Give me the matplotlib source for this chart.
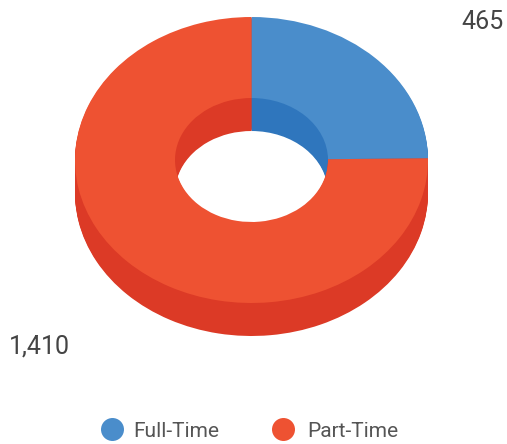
import matplotlib
matplotlib.use('Agg')
import matplotlib.pyplot as plt

# ---- data ----
categories = ['Full-Time', 'Part-Time']
values = [465, 1410]
value_labels = ['465', '1,410']
top_colors = ['#4a8dcb', '#ee5232']
side_colors = ['#2f76bd', '#dc3a26']

plt.rcParams['font.family'] = ['Roboto', 'DejaVu Sans']

W, H = 507, 444
fig = plt.figure(figsize=(W / 100, H / 100), dpi=100)
ax = fig.add_axes([0, 0, 1, 1])

# layout (pixels)
cx_px, cy_px = 251.5, 160.0
rx_px, ry_px = 176.5, 143.0
depth_px = 33
inner_frac = 76.5 / 176.5
ring_w = 1 - inner_frac

# side walls: stacked darker rings from bottom to top
for k in range(depth_px, 0, -1):
    ax.pie(values, startangle=90, counterclock=False, colors=side_colors,
           radius=1, center=(0, -k / ry_px),
           wedgeprops=dict(width=ring_w, linewidth=0))
# top surface
ax.pie(values, startangle=90, counterclock=False, colors=top_colors,
       radius=1, center=(0, 0),
       wedgeprops=dict(width=ring_w, linewidth=0))

ax.set_aspect('auto')
ax.set_xlim(-cx_px / rx_px, (W - cx_px) / rx_px)
ax.set_ylim(-(H - cy_px) / ry_px, cy_px / ry_px)
ax.axis('off')

# value labels
label_pos = [(483, 29), (39, 353)]
for (px, py), txt in zip(label_pos, value_labels):
    fig.text(px / W, 1 - py / H, txt, ha='center', va='baseline',
             fontsize=18, color='#444444')

# legend
lax = fig.add_axes([0, 0, 1, 1], zorder=5)
lax.set_xlim(0, W)
lax.set_ylim(H, 0)
lax.axis('off')
leg_marker_x = [112, 283]
leg_text_x = [133, 307]
for mx, tx, c, name in zip(leg_marker_x, leg_text_x, top_colors, categories):
    lax.scatter([mx], [428.5], s=274, color=c, linewidths=0)
    lax.text(tx, 437, name, ha='left', va='baseline', fontsize=15, color='#555555')

fig.savefig('out.png', dpi=100, facecolor='white')
